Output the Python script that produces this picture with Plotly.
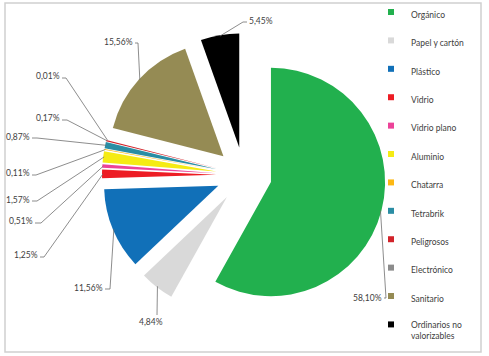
import math
import plotly.graph_objects as go

# ---------------- data ----------------
categories = ["Orgánico", "Papel y cartón", "Plástico", "Vidrio", "Vidrio plano",
              "Aluminio", "Chatarra", "Tetrabrik", "Peligrosos", "Electrónico",
              "Sanitario", "Ordinarios no valorizables"]
values = [58.10, 4.84, 11.56, 1.25, 0.51, 1.57, 0.11, 0.87, 0.17, 0.01, 15.56, 5.45]
legend_labels = ["Orgánico", "Papel y cartón", "Plástico", "Vidrio", "Vidrio plano",
                 "Aluminio", "Chatarra", "Tetrabrik", "Peligrosos", "Electrónico",
                 "Sanitario", "Ordinarios no<br>valorizables"]
colors = ["#22B04E", "#D9D9D9", "#1170B8", "#ED1C24", "#EC4399", "#F5EB14",
          "#FDB813", "#2A8DA4", "#D2232A", "#8C8C8C", "#958B54", "#000000"]

# ---------------- layout constants (pixels) ----------------
W, H = 489, 356
PIE_CX, PIE_CY, PIE_BOX = 244, 175, 284
PULL = 0.244
FONT = "Lato"
TXT = "#404040"
LINE = "#707070"

# label placement: text x, text y, xanchor, knee x, knee y
label_layout = [
    (383, 298, "right", 386, 298),
    (151, 322, "center", 157, 315),
    (104, 288, "right", 110, 289),
    (39, 255, "right", 44, 257),
    (34, 221, "right", 41, 223),
    (31, 200, "right", 37, 201),
    (31, 173, "right", 36, 175),
    (31, 137, "right", 37, 138),
    (61, 118, "right", 67, 120),
    (61, 76, "right", 66, 78),
    (134, 42, "right", 138, 43),
    (248, 21, "left", 243, 22),
]


def px(x):
    return x / W


def py(y):
    return 1 - y / H


dx0, dx1 = (PIE_CX - PIE_BOX / 2) / W, (PIE_CX + PIE_BOX / 2) / W
dy0, dy1 = 1 - (PIE_CY + PIE_BOX / 2) / H, 1 - (PIE_CY - PIE_BOX / 2) / H

fig = go.Figure()
fig.add_trace(go.Pie(
    labels=categories, values=values, sort=False, direction="clockwise",
    rotation=0, pull=[PULL] * len(values),
    marker=dict(colors=colors, line=dict(width=0)),
    textinfo="none", showlegend=False, hoverinfo="label+percent",
    domain=dict(x=[dx0, dx1], y=[dy0, dy1]),
))

# legend entries (one per category, colour from the same arrays)
for lab, col in zip(legend_labels, colors):
    fig.add_trace(go.Scatter(
        x=[None], y=[None], mode="markers", name=lab, legendgroup=lab,
        marker=dict(symbol="square", size=6, color=col), showlegend=True,
        hoverinfo="skip"))

# data labels with leader lines, anchored on slice arc computed from values
r = (PIE_BOX / 2) / (1 + PULL)
total = sum(values)
cum = 0.0
shapes = []
annotations = []
for v, (tx, ty, xa, kx, ky) in zip(values, label_layout):
    mid = (cum + v / 2) / total * 360.0
    cum += v
    t = math.radians(mid)
    R = r * (1 + PULL) - 1
    ax, ay = PIE_CX + R * math.sin(t), PIE_CY - R * math.cos(t)
    txt = f"{v:.2f}".replace(".", ",") + "%"
    annotations.append(dict(
        x=px(tx), y=py(ty), xref="paper", yref="paper", text=txt,
        showarrow=False, xanchor=xa, yanchor="middle",
        font=dict(family=FONT, size=8.5, color=TXT), borderpad=0))
    if xa == "right":
        path = f"M {px(tx + 1)} {py(ky)} L {px(kx)} {py(ky)} L {px(ax)} {py(ay)}"
    elif xa == "left":
        path = f"M {px(tx - 1)} {py(ky)} L {px(kx)} {py(ky)} L {px(ax)} {py(ay)}"
    else:
        path = f"M {px(kx)} {py(ky)} L {px(ax)} {py(ay)}"
    shapes.append(dict(type="path", path=path, xref="paper", yref="paper",
                       line=dict(color=LINE, width=0.8)))

# chart border
shapes.append(dict(type="rect", xref="paper", yref="paper",
                   x0=px(5), x1=px(481), y0=py(352), y1=py(3),
                   line=dict(color="#D0D0D0", width=1.5)))

fig.update_layout(
    width=W, height=H, margin=dict(l=0, r=0, t=0, b=0),
    paper_bgcolor="white", plot_bgcolor="white",
    xaxis=dict(visible=False), yaxis=dict(visible=False),
    shapes=shapes, annotations=annotations,
    legend=dict(x=px(371), y=1, xanchor="left", yanchor="top",
                font=dict(family=FONT, size=8.5, color=TXT),
                tracegroupgap=9.4, valign="top", itemwidth=30,
                bgcolor="rgba(0,0,0,0)"),
    font=dict(family=FONT),
)

fig.write_html("out.html", config={"displayModeBar": False},
               post_script="document.body.style.margin='0px';")
